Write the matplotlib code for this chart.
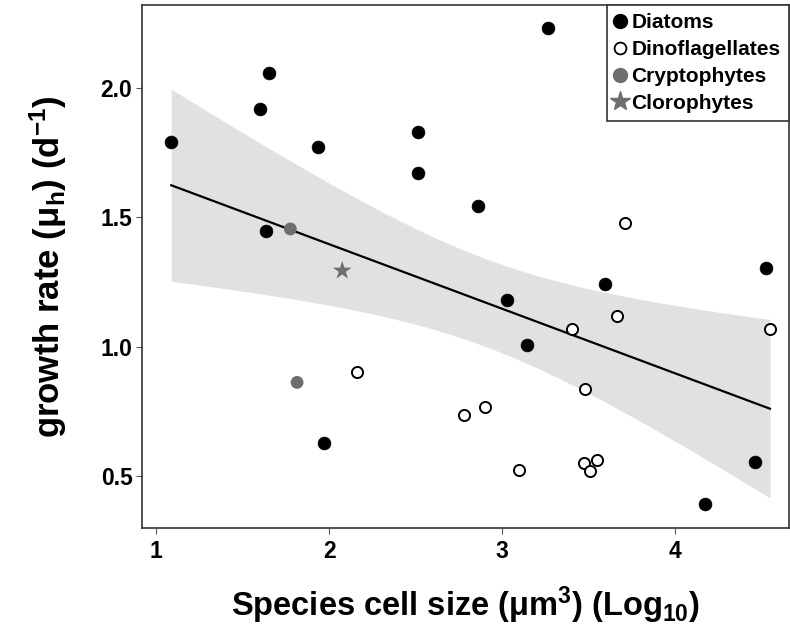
import numpy as np
import matplotlib
matplotlib.use("Agg")
import matplotlib.pyplot as plt
from matplotlib.lines import Line2D

plt.rcParams['font.family'] = ['Liberation Sans', 'DejaVu Sans']
plt.rcParams['font.weight'] = 'bold'
plt.rcParams['mathtext.fontset'] = 'custom'
plt.rcParams['mathtext.rm'] = 'Liberation Sans:bold'
plt.rcParams['mathtext.it'] = 'Liberation Sans:bold'
plt.rcParams['mathtext.bf'] = 'Liberation Sans:bold'

# ---- data (log10 cell size, growth rate) ----
diatoms_x = [1.088, 1.651, 1.601, 1.936, 1.634, 2.512, 2.514, 2.860, 3.265, 3.596,
             4.526, 1.971, 3.030, 3.143, 4.459, 4.172]
diatoms_y = [1.790, 2.057, 1.918, 1.772, 1.448, 1.828, 1.672, 1.545, 2.230, 1.244,
             1.306, 0.630, 1.182, 1.006, 0.557, 0.393]
dino_x = [3.708, 3.665, 3.405, 4.547, 2.163, 3.480, 2.901, 2.779, 3.097, 3.473, 3.507, 3.550]
dino_y = [1.478, 1.118, 1.068, 1.070, 0.902, 0.839, 0.768, 0.736, 0.525, 0.552, 0.522, 0.564]
crypto_x = [1.776, 1.815]
crypto_y = [1.455, 0.863]
cloro_x = [2.076]
cloro_y = [1.294]

x_ticks = [1, 2, 3, 4]
y_ticks = [0.5, 1.0, 1.5, 2.0]

# ---- linear fit with 95% CI over all species ----
all_x = np.array(diatoms_x + dino_x + crypto_x + cloro_x)
all_y = np.array(diatoms_y + dino_y + crypto_y + cloro_y)
n = len(all_x)
b1, b0 = np.polyfit(all_x, all_y, 1)
resid = all_y - (b0 + b1 * all_x)
s = np.sqrt(np.sum(resid ** 2) / (n - 2))
xm = all_x.mean()
sxx = np.sum((all_x - xm) ** 2)
t = 2.045
xs = np.linspace(all_x.min(), all_x.max(), 200)
ys = b0 + b1 * xs
se = s * np.sqrt(1.0 / n + (xs - xm) ** 2 / sxx)

fig = plt.figure(figsize=(7.9, 6.28), dpi=100)
ax = fig.add_axes([141.5 / 790, 1 - 528 / 628, (789 - 141.5) / 790, (528 - 4.7) / 628])

ax.fill_between(xs, ys - t * se, ys + t * se, color='#e1e1e1', lw=0, zorder=1)
ax.plot(xs, ys, color='black', lw=1.6, zorder=2)

ax.scatter(diatoms_x, diatoms_y, s=85, c='black', edgecolors='black', linewidths=0.5, zorder=3)
ax.scatter(dino_x, dino_y, s=64, facecolors='white', edgecolors='black', linewidths=1.4, zorder=3)
ax.scatter(crypto_x, crypto_y, s=85, c='#6e6e6e', edgecolors='none', zorder=3)
ax.scatter(cloro_x, cloro_y, s=200, c='#6e6e6e', marker='*', edgecolors='none', zorder=3)

ax.set_xlim(0.9162, 4.657)
ax.set_ylim(0.3013, 2.3202)
ax.set_xticks(x_ticks)
ax.set_xticklabels([str(v) for v in x_ticks])
ax.set_yticks(y_ticks)
ax.set_yticklabels([f"{v:.1f}" for v in y_ticks])
ax.tick_params(axis='both', direction='out', length=4, width=0.8, color='#555555',
               labelsize=16.5)
ax.tick_params(axis='x', pad=5)
ax.tick_params(axis='y', pad=2.5)
for lab in ax.get_xticklabels() + ax.get_yticklabels():
    lab.set_fontweight('bold')
for sp in ax.spines.values():
    sp.set_color('#333333')
    sp.set_linewidth(1.2)

ax.set_xlabel("Species cell size (μm$^{3}$) (Log$_{10}$)", fontsize=23.5, fontweight='bold',
              labelpad=15)
ax.set_ylabel("growth rate (μ$_{h}$) (d$^{-1}$)", fontsize=25, fontweight='bold', labelpad=23)

handles = [
    Line2D([], [], marker='o', ls='none', color='black', markersize=10),
    Line2D([], [], marker='o', ls='none', markerfacecolor='white', markeredgecolor='black',
           markeredgewidth=1.3, markersize=8.5),
    Line2D([], [], marker='o', ls='none', color='#6e6e6e', markersize=10),
    Line2D([], [], marker='*', ls='none', color='#6e6e6e', markersize=15),
]
labels = ['Diatoms', 'Dinoflagellates', 'Cryptophytes', 'Clorophytes']
leg = ax.legend(handles, labels, loc='upper right', bbox_to_anchor=(1, 1), borderaxespad=0,
                fancybox=False, framealpha=1, edgecolor='#333333', handlelength=0.5,
                handletextpad=0.3, borderpad=0.4, labelspacing=0.38,
                prop={'size': 15, 'weight': 'bold'})
leg.get_frame().set_linewidth(1.2)

fig.savefig('out.png', dpi=100)
